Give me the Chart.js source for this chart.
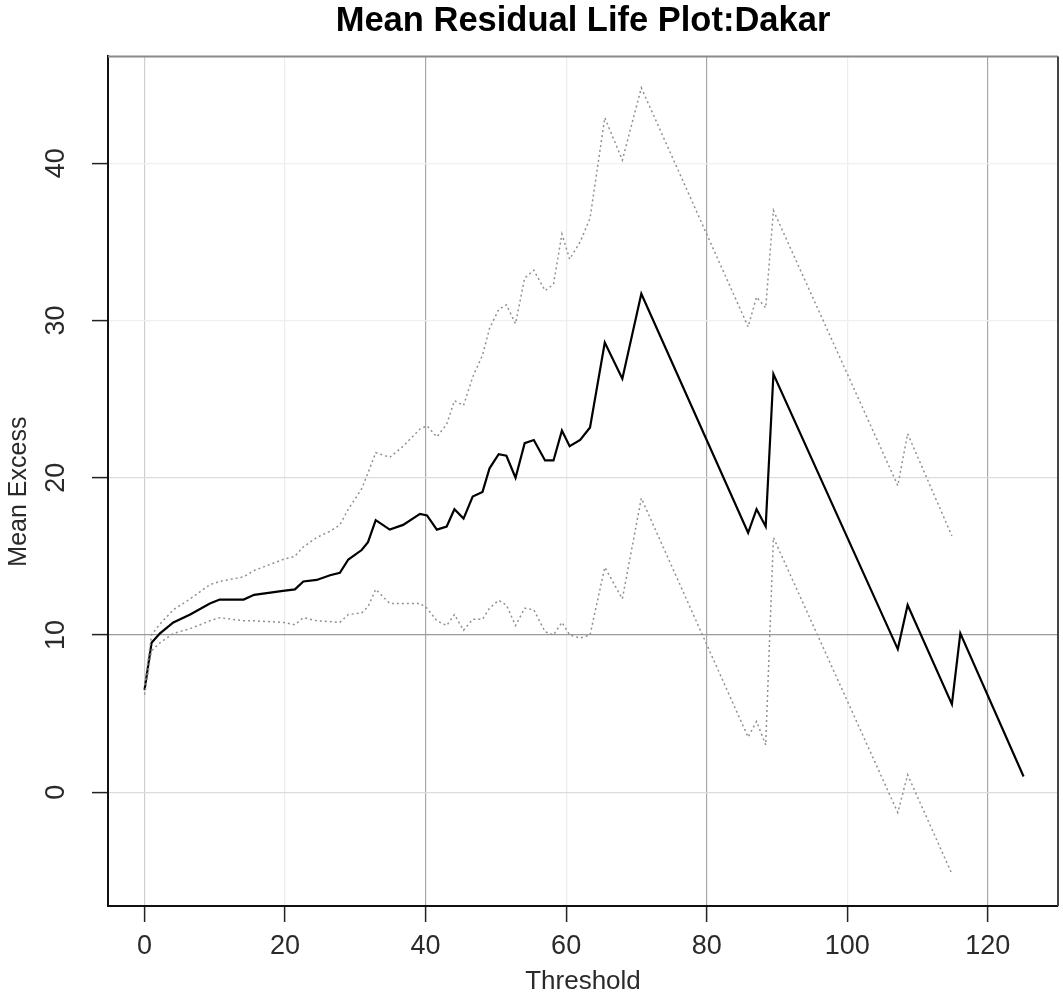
<!DOCTYPE html>
<html>
<head>
<meta charset="utf-8">
<script src="https://cdn.jsdelivr.net/npm/chart.js@4/dist/chart.umd.min.js"></script>
<style>
  html, body { margin: 0; padding: 0; background: #fff; }
  #wrap { width: 1063px; height: 999px; position: relative; }
</style>
</head>
<body>
<div id="wrap"><canvas id="c"></canvas></div>
<script>
// ---- data ----
const thresholds = [0, 1, 2.2, 4.1, 6.5, 9.3, 10.7, 14.1, 15.6, 19.7, 21.4, 22.6, 24.5, 26.4, 27.8, 29.0, 30.9, 31.8, 32.9, 34.9, 36.8, 39.2, 40.2, 41.6, 43.0, 44.1, 45.4, 46.7, 48.1, 49.1, 50.4, 51.5, 52.8, 54.1, 55.4, 57.0, 58.2, 59.4, 60.5, 62.0, 63.4, 65.5, 68.0, 70.7, 85.9, 87.1, 88.4, 89.5, 107.2, 108.6, 114.9, 116.1, 125.1];
const meanExcess = [6.5, 9.5, 10.1, 10.8, 11.3, 12.0, 12.25, 12.25, 12.55, 12.8, 12.9, 13.4, 13.5, 13.8, 13.95, 14.8, 15.4, 15.9, 17.3, 16.7, 17.0, 17.7, 17.6, 16.7, 16.9, 18.0, 17.4, 18.8, 19.1, 20.6, 21.5, 21.4, 20.0, 22.2, 22.4, 21.1, 21.1, 23.0, 22.0, 22.4, 23.2, 28.6, 26.3, 31.7, 16.5, 18.0, 16.9, 26.6, 9.1, 11.9, 5.6, 10.1, 1.0];
const upperCI = [6.8, 10.0, 10.7, 11.6, 12.3, 13.2, 13.4, 13.7, 14.1, 14.8, 15.0, 15.6, 16.2, 16.6, 17.0, 18.0, 19.3, 20.3, 21.6, 21.3, 22.0, 23.1, 23.3, 22.6, 23.4, 24.9, 24.6, 26.4, 27.8, 29.5, 30.7, 31.0, 29.8, 32.7, 33.2, 31.9, 32.3, 35.5, 33.9, 35.0, 36.5, 42.9, 40.2, 44.8, 29.6, 31.5, 30.8, 37.0, 19.5, 22.8, 16.3, null, null];
const lowerCI = [6.2, 9.0, 9.5, 10.1, 10.4, 10.9, 11.1, 10.9, 10.9, 10.8, 10.65, 11.1, 10.9, 10.85, 10.8, 11.3, 11.4, 11.8, 12.9, 12.0, 12.0, 12.0, 11.7, 10.9, 10.6, 11.3, 10.3, 11.0, 11.0, 11.7, 12.2, 11.9, 10.6, 11.7, 11.6, 10.2, 10.0, 10.8, 10.0, 9.8, 10.0, 14.3, 12.3, 18.7, 3.5, 4.5, 3.0, 16.2, -1.3, 1.1, -5.2, null, null];
const xTickValues = [0, 20, 40, 60, 80, 100, 120];
const yTickValues = [0, 10, 20, 30, 40];
const titleText = 'Mean Residual Life Plot:Dakar';
const xTitle = 'Threshold';
const yTitle = 'Mean Excess   ';

const toPts = (ys) => thresholds.map((x, i) => ({ x: x, y: ys[i] }));

const FONT = "'Liberation Sans', Arial, Helvetica, sans-serif";

const xGridColor = (v) => (v === 40 || v === 80 || v === 120) ? '#a8a8a8' : (v === 0 ? '#cfcfcf' : '#ececec');
const yGridColor = (v) => (v === 10) ? '#9a9a9a' : ((v === 0 || v === 20) ? '#dcdcdc' : '#efefef');

const framePlugin = {
  id: 'frame',
  afterDraw(chart) {
    const { ctx, chartArea: a } = chart;
    ctx.save();
    ctx.lineWidth = 2;
    ctx.strokeStyle = '#8a8a8a';
    ctx.beginPath();
    ctx.moveTo(a.left, a.top);
    ctx.lineTo(a.right, a.top);
    ctx.stroke();
    ctx.strokeStyle = '#444';
    ctx.beginPath();
    ctx.moveTo(a.right, a.top);
    ctx.lineTo(a.right, a.bottom);
    ctx.stroke();
    ctx.restore();
  }
};

new Chart(document.getElementById('c'), {
  type: 'line',
  data: {
    datasets: [
      { label: 'Upper', data: toPts(upperCI), borderColor: '#909090', borderWidth: 1.5, borderDash: [2, 3], pointRadius: 0, tension: 0, fill: false },
      { label: 'Lower', data: toPts(lowerCI), borderColor: '#909090', borderWidth: 1.5, borderDash: [2, 3], pointRadius: 0, tension: 0, fill: false },
      { label: 'Mean excess', data: toPts(meanExcess), borderColor: '#000', borderWidth: 2.2, pointRadius: 0, tension: 0, fill: false }
    ]
  },
  options: {
    responsive: true,
    maintainAspectRatio: false,
    animation: false,
    events: [],
    layout: { padding: { top: 0, right: 5, bottom: 0, left: 0 } },
    plugins: {
      legend: { display: false },
      tooltip: { enabled: false },
      title: {
        display: true, text: titleText, color: '#000', fullSize: false,
        font: { family: FONT, size: 34.5, weight: 'bold' },
        padding: { top: 1, bottom: 14 }
      }
    },
    scales: {
      x: {
        type: 'linear', min: -5.2, max: 130,
        afterFit(s) { s.height = 93; },
        afterBuildTicks(s) { s.ticks = xTickValues.map(v => ({ value: v })); },
        ticks: { color: '#2a2a2a', font: { family: FONT, size: 27 }, padding: 8, maxRotation: 0, minRotation: 0, includeBounds: false },
        grid: { color: (c) => xGridColor(c.tick && c.tick.value), lineWidth: 1.2, tickColor: '#222', tickLength: 16, tickWidth: 1.5, drawOnChartArea: true },
        border: { display: true, color: '#111', width: 2 },
        title: { display: true, text: xTitle, color: '#2a2a2a', font: { family: FONT, size: 26 }, padding: { top: 0, bottom: 2 } }
      },
      y: {
        type: 'linear', min: -7.24, max: 46.8,
        afterFit(s) { s.width = 108; },
        afterBuildTicks(s) { s.ticks = yTickValues.map(v => ({ value: v })); },
        ticks: { color: '#2a2a2a', font: { family: FONT, size: 27 }, padding: 20, minRotation: 90, maxRotation: 90, crossAlign: 'center', includeBounds: false },
        grid: { color: (c) => yGridColor(c.tick && c.tick.value), lineWidth: 1.2, tickColor: '#222', tickLength: 16, tickWidth: 1.5 },
        border: { display: true, color: '#111', width: 2 },
        title: { display: true, text: yTitle, color: '#2a2a2a', font: { family: FONT, size: 25 }, padding: { top: 4, bottom: 0 } }
      }
    }
  },
  plugins: [framePlugin]
});
</script>
</body>
</html>
